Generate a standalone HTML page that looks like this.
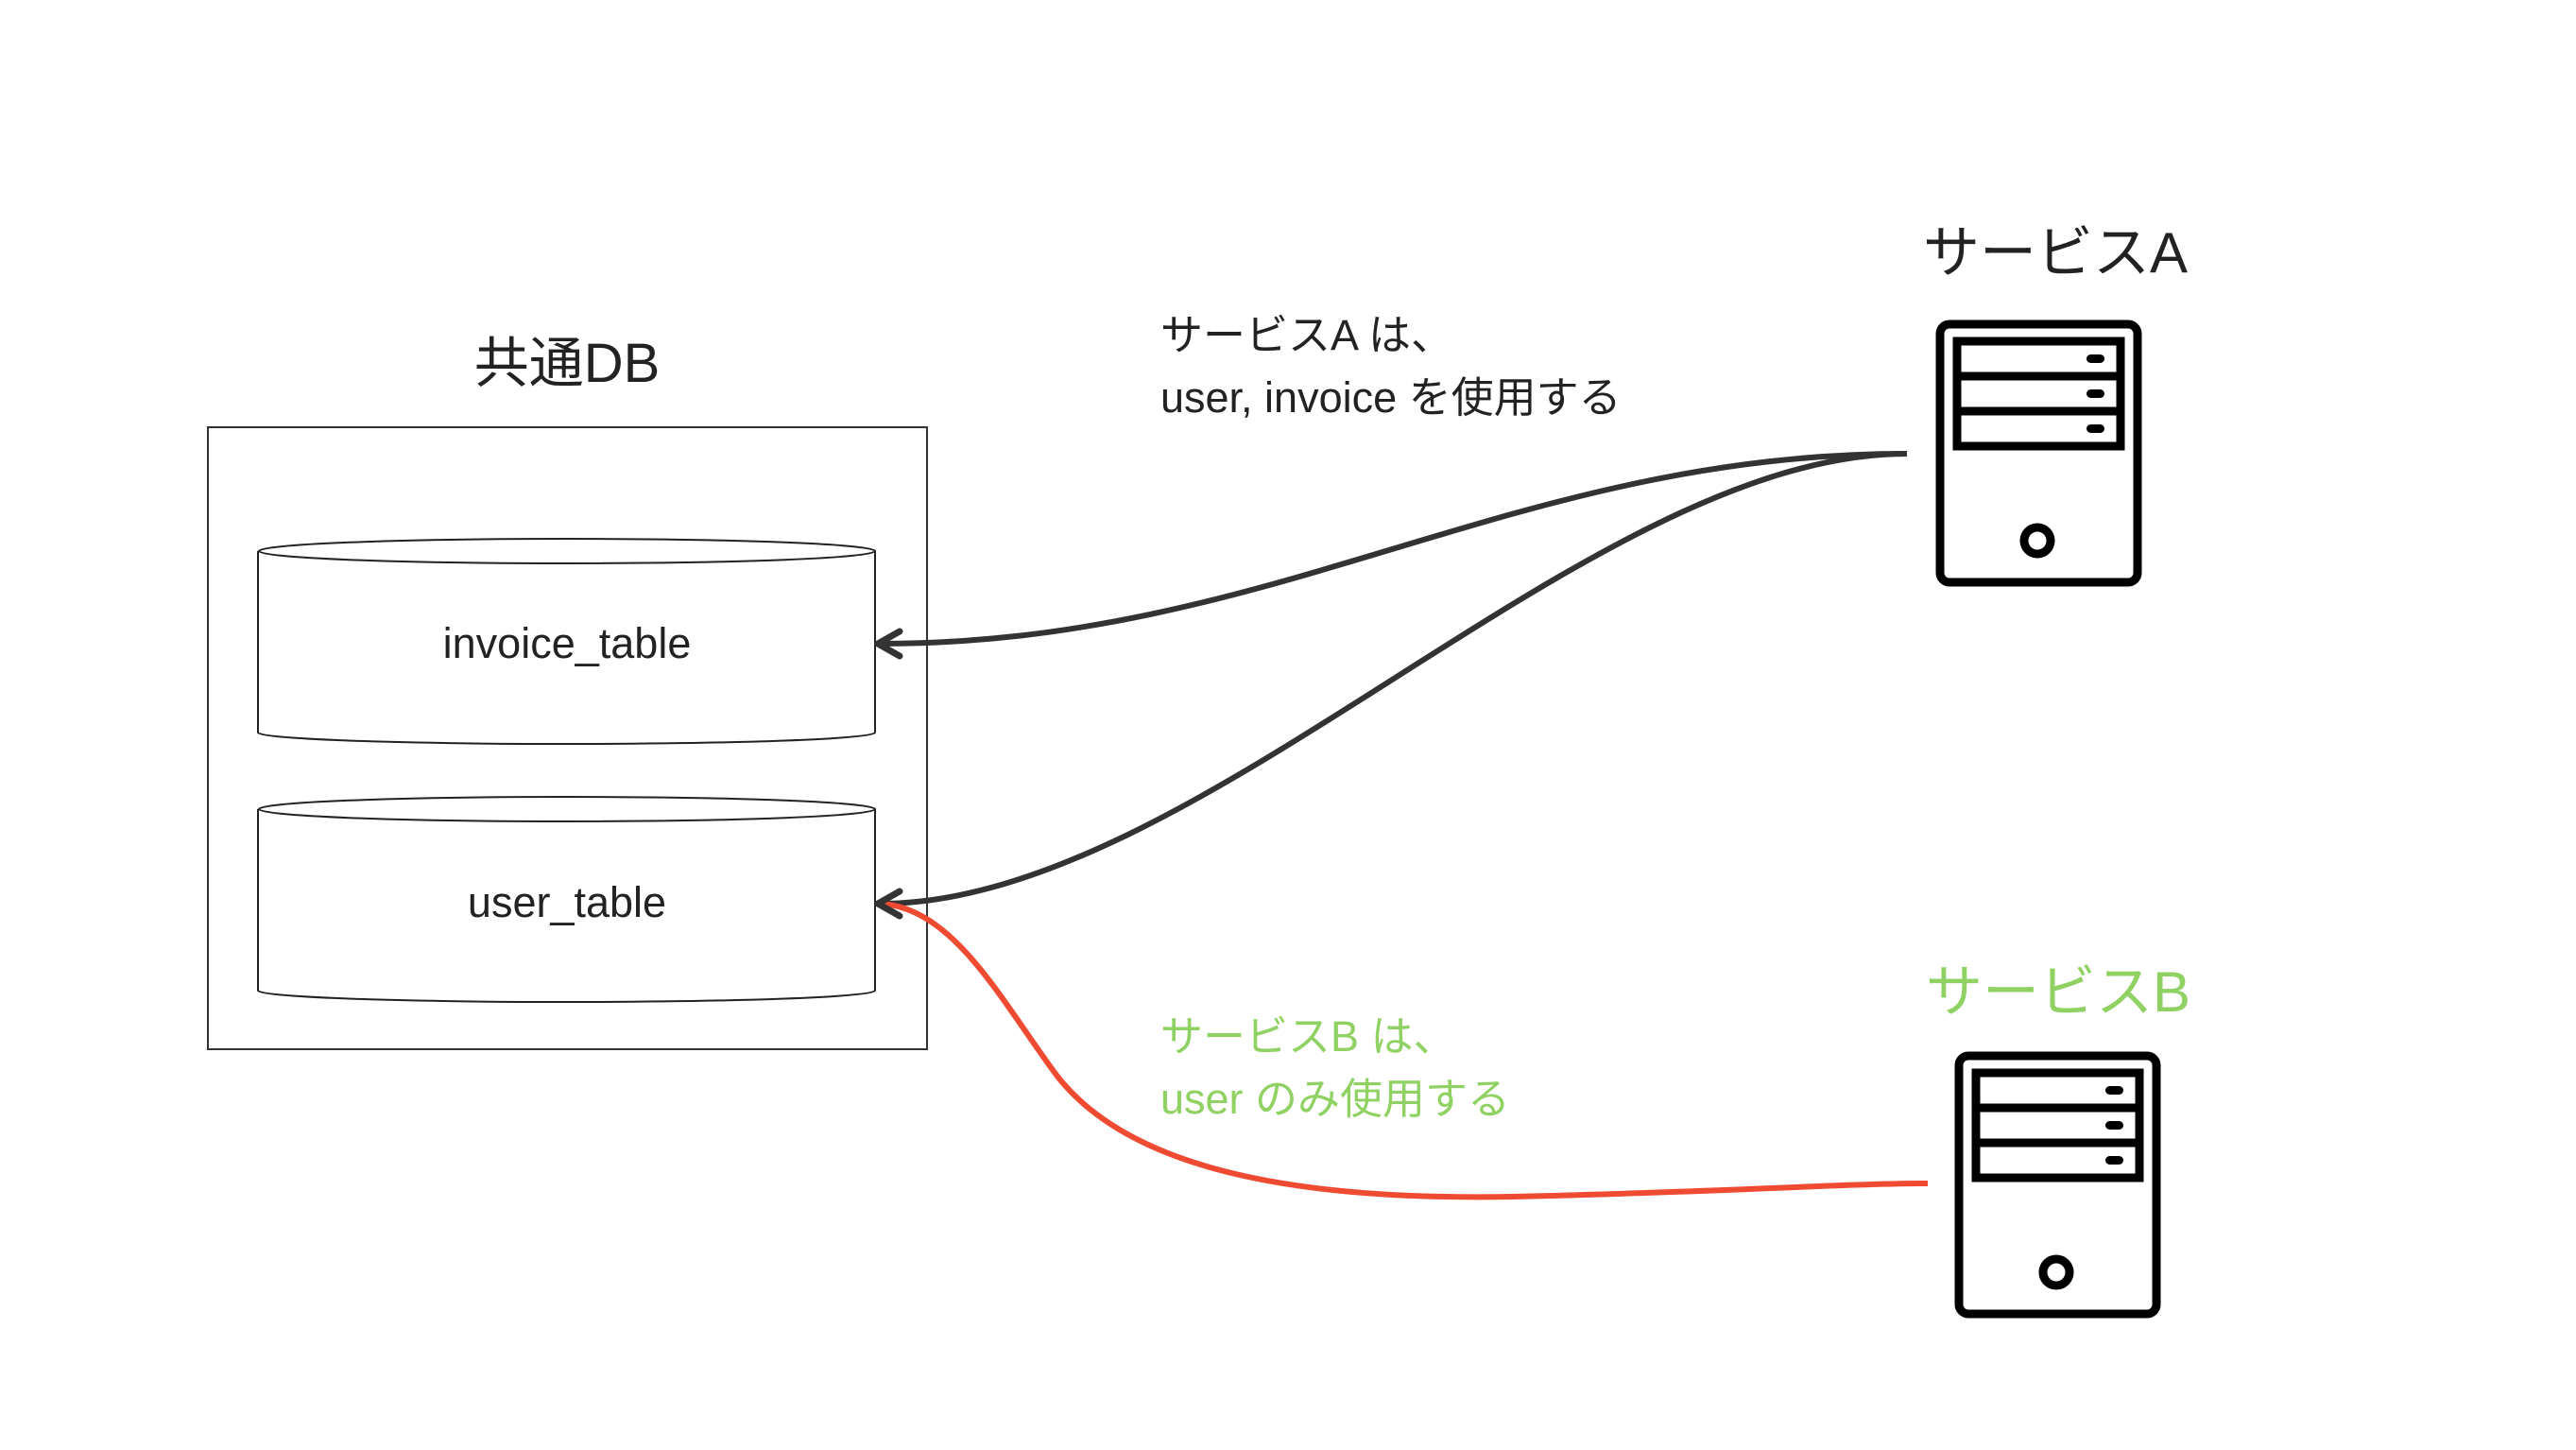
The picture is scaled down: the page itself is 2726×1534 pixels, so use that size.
<!DOCTYPE html>
<html><head><meta charset="utf-8"><style>
html,body{margin:0;padding:0;background:#fff;}
svg{display:block}
text{font-family:"Liberation Sans","Noto Sans CJK JP",sans-serif;}
</style></head><body>
<svg width="2726" height="1534" viewBox="0 0 2726 1534" xmlns="http://www.w3.org/2000/svg">
<rect width="2726" height="1534" fill="#fff"/>
<text x="600" y="404" font-size="58" text-anchor="middle" fill="#222">共通DB</text>
<rect x="220" y="452" width="761" height="658" fill="none" stroke="#333" stroke-width="2"/>
<path d="M273,583 L273,775 A326,12 0 0 0 926,775 L926,583" fill="#fff" stroke="#222" stroke-width="2"/>
<ellipse cx="600" cy="583" rx="326" ry="13" fill="#fff" stroke="#222" stroke-width="2"/>
<text x="600" y="696" font-size="45" text-anchor="middle" fill="#222">invoice_table</text>
<path d="M273,856 L273,1048 A326,12 0 0 0 926,1048 L926,856" fill="#fff" stroke="#222" stroke-width="2"/>
<ellipse cx="600" cy="856" rx="326" ry="13" fill="#fff" stroke="#222" stroke-width="2"/>
<text x="600" y="970" font-size="45" text-anchor="middle" fill="#222">user_table</text>

<path d="M2018,480 C1600,480 1350,681 931,681" fill="none" stroke="#333" stroke-width="6"/>
<path d="M2018,480 C1680,480 1270,956 931,956" fill="none" stroke="#333" stroke-width="6"/>
<path d="M931,956 C1010,960 1060,1060 1120,1140 C1200,1240 1380,1270 1600,1266 C1800,1262 1950,1252 2040,1252" fill="none" stroke="#ee4b32" stroke-width="6"/>
<path d="M952,668 L929,681 L952,694" fill="none" stroke="#333" stroke-width="7" stroke-linejoin="round" stroke-linecap="round"/>
<path d="M952,943 L929,956 L952,969" fill="none" stroke="#333" stroke-width="7" stroke-linejoin="round" stroke-linecap="round"/>

<text x="1228" y="370" font-size="45" fill="#222">サービスA は、</text>
<text x="1228" y="436" font-size="45" fill="#222">user, invoice を使用する</text>
<text x="1228" y="1112" font-size="45" fill="#8fd162">サービスB は、</text>
<text x="1228" y="1178" font-size="45" fill="#8fd162">user のみ使用する</text>

<text x="2175" y="288" font-size="60" text-anchor="middle" fill="#222">サービスA</text>
<text x="2178" y="1070" font-size="60" text-anchor="middle" fill="#8fd162">サービスB</text>

<g transform="translate(-11,0)">
<g fill="none" stroke="#000" stroke-width="9">
<rect x="2064" y="343" width="209" height="273" rx="10"/>
<rect x="2082" y="361" width="173" height="111"/>
<line x1="2082" y1="398" x2="2255" y2="398"/>
<line x1="2082" y1="435" x2="2255" y2="435"/>
<circle cx="2167" cy="572" r="14"/>
</g>
<g fill="#000">
<rect x="2219" y="375" width="19" height="9" rx="4.5"/>
<rect x="2219" y="412" width="19" height="9" rx="4.5"/>
<rect x="2219" y="449" width="19" height="9" rx="4.5"/>
</g>
</g>
<g transform="translate(9,774)">
<g fill="none" stroke="#000" stroke-width="9">
<rect x="2064" y="343" width="209" height="273" rx="10"/>
<rect x="2082" y="361" width="173" height="111"/>
<line x1="2082" y1="398" x2="2255" y2="398"/>
<line x1="2082" y1="435" x2="2255" y2="435"/>
<circle cx="2167" cy="572" r="14"/>
</g>
<g fill="#000">
<rect x="2219" y="375" width="19" height="9" rx="4.5"/>
<rect x="2219" y="412" width="19" height="9" rx="4.5"/>
<rect x="2219" y="449" width="19" height="9" rx="4.5"/>
</g>
</g>
</svg>
</body></html>
